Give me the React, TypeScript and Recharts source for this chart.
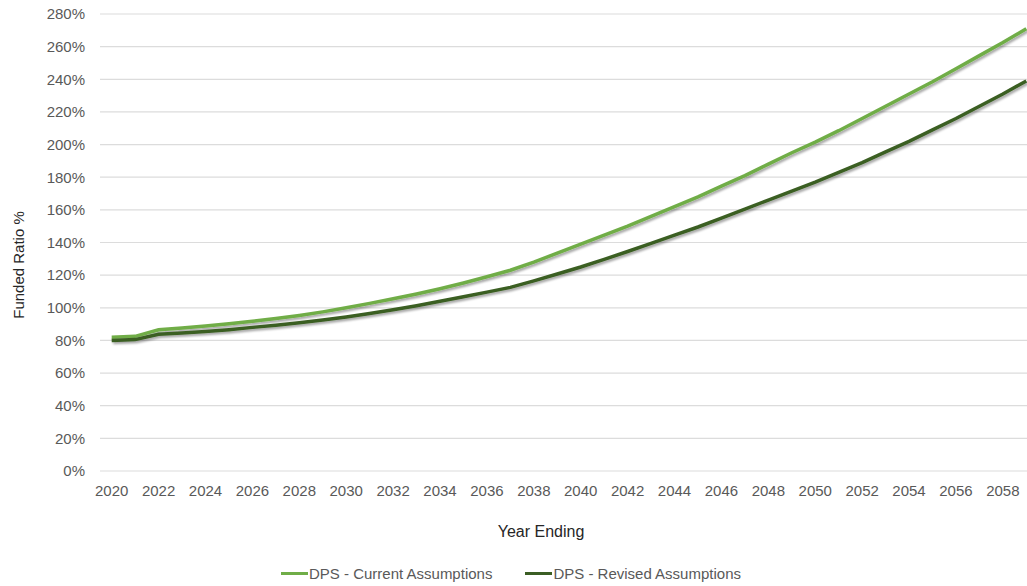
import { LineChart, Line, XAxis, YAxis, CartesianGrid, Legend } from 'recharts';

const years = [
  2020, 2021, 2022, 2023, 2024, 2025, 2026, 2027, 2028, 2029,
  2030, 2031, 2032, 2033, 2034, 2035, 2036, 2037, 2038, 2039,
  2040, 2041, 2042, 2043, 2044, 2045, 2046, 2047, 2048, 2049,
  2050, 2051, 2052, 2053, 2054, 2055, 2056, 2057, 2058, 2059,
];

const currentAssumptions = [
  82, 82.5, 86.5, 87.6, 88.8, 90.2, 91.7, 93.4, 95.3, 97.5,
  100, 102.7, 105.5, 108.5, 111.7, 115.2, 119, 123, 128, 133.5,
  139, 144.5, 150, 156, 162, 168, 174.5, 181, 188, 195,
  201.5, 208.5, 216, 223.5, 231, 238.5, 246.5, 254.5, 262.5, 271,
];

const revisedAssumptions = [
  80, 80.5, 83.8, 84.6, 85.5, 86.6, 88, 89.3, 90.8, 92.5,
  94.4, 96.5, 98.8, 101.3, 104, 106.8, 109.6, 112.5, 116.5, 120.7,
  125, 129.7, 134.5, 139.5, 144.5, 149.5, 155, 160.5, 166, 171.5,
  177, 183, 189, 195.5, 202, 209, 216, 223.5, 231, 239,
];

const yTicks = [0, 20, 40, 60, 80, 100, 120, 140, 160, 180, 200, 220, 240, 260, 280];
const xTicks = years.filter((y) => y % 2 === 0);

const data = years.map((year, i) => ({
  year,
  current: currentAssumptions[i],
  revised: revisedAssumptions[i],
}));

const LIGHT = '#70ad47';
const DARK = '#3b5e24';
const TEXT = '#595959';

function LegendContent() {
  const items = [
    { label: 'DPS - Current Assumptions', color: LIGHT },
    { label: 'DPS - Revised Assumptions', color: DARK },
  ];
  return (
    <div style={{ display: 'flex', justifyContent: 'center', alignItems: 'center', gap: 33, height: 30, paddingTop: 4, boxSizing: 'border-box' }}>
      {items.map((it) => (
        <div key={it.label} style={{ display: 'flex', alignItems: 'center', fontSize: 15, color: TEXT }}>
          <span style={{ display: 'inline-block', width: 27, height: 3, background: it.color, marginRight: 1 }} />
          {it.label}
        </div>
      ))}
    </div>
  );
}

export default function App() {
  return (
    <div
      style={{
        position: 'absolute',
        left: 0,
        top: 0,
        width: 1027,
        height: 586,
        overflow: 'hidden',
        background: '#fff',
        fontFamily: '"Liberation Sans", Arial, sans-serif',
      }}
    >
      <LineChart width={1040} height={586} data={data} margin={{ top: 14, right: 2, left: 0, bottom: 0 }}>
        <defs>
          <filter id="lineShadow" x="-5%" y="-5%" width="110%" height="120%">
            <feDropShadow dx="1.5" dy="2" stdDeviation="1.2" floodColor="#000" floodOpacity="0.35" />
          </filter>
        </defs>
        <CartesianGrid vertical={false} stroke="#dcdcdc" strokeWidth={1.2} />
        <XAxis
          dataKey="year"
          ticks={xTicks}
          interval={0}
          axisLine={false}
          tickLine={false}
          tickSize={0}
          tickMargin={14}
          height={85}
          padding={{ left: 11.7, right: 11.7 }}
          tick={{ fill: TEXT, fontSize: 15 }}
          label={{
            content: () => (
              <text x={541} y={531} textAnchor="middle" dominantBaseline="central" fontSize={16} fill="#262626">
                Year Ending
              </text>
            ),
          }}
        />
        <YAxis
          domain={[0, 280]}
          ticks={yTicks}
          width={100}
          axisLine={false}
          tickLine={false}
          tickSize={0}
          tickMargin={15}
          tickFormatter={(v: number) => `${v}%`}
          tick={{ fill: TEXT, fontSize: 15 }}
          label={{
            content: () => (
              <text
                x={18}
                y={265}
                transform="rotate(-90 18 265)"
                textAnchor="middle"
                dominantBaseline="central"
                fontSize={15}
                fill="#262626"
              >
                Funded Ratio %
              </text>
            ),
          }}
        />
        <Legend verticalAlign="bottom" height={30} wrapperStyle={{ left: 0, width: 1022 }} content={() => <LegendContent />} />
        <Line
          type="linear"
          dataKey="current"
          name="DPS - Current Assumptions"
          stroke={LIGHT}
          strokeWidth={3.5}
          dot={false}
          filter="url(#lineShadow)"
          isAnimationActive={false}
        />
        <Line
          type="linear"
          dataKey="revised"
          name="DPS - Revised Assumptions"
          stroke={DARK}
          strokeWidth={3.5}
          dot={false}
          filter="url(#lineShadow)"
          isAnimationActive={false}
        />
      </LineChart>
    </div>
  );
}
